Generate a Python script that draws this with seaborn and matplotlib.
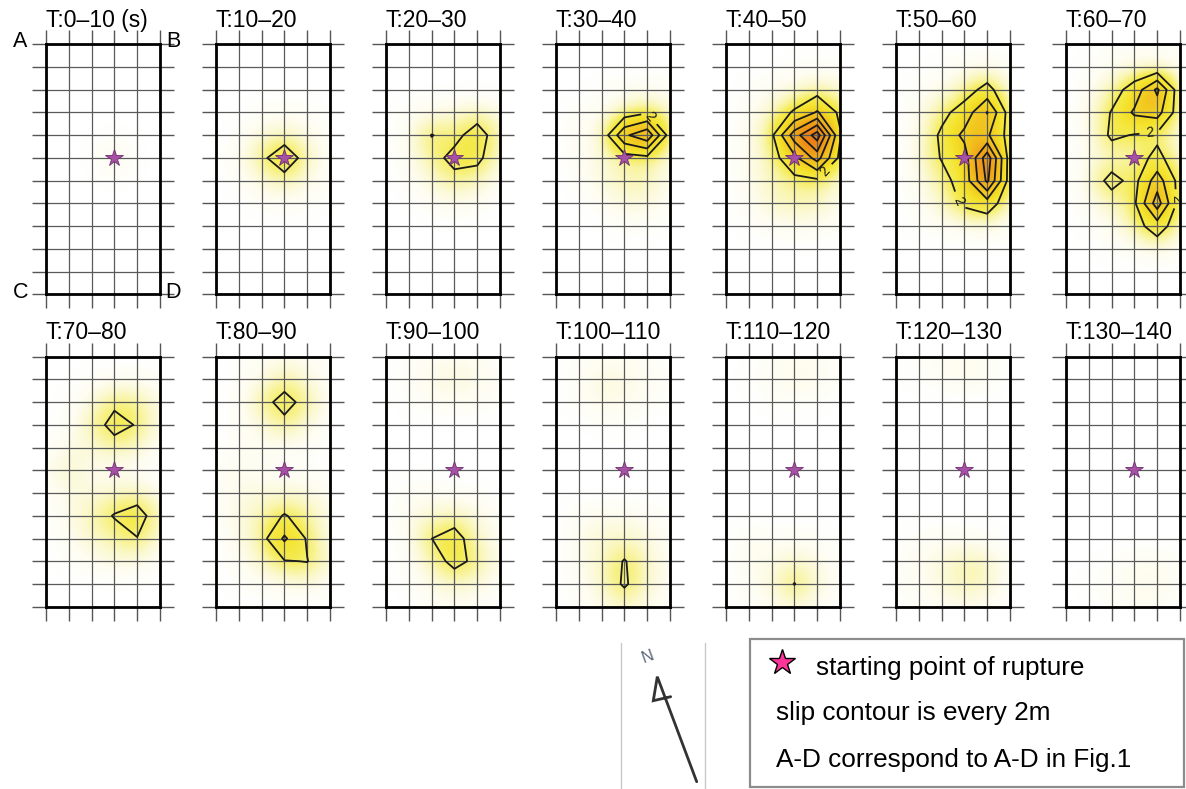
import numpy as np
import matplotlib
matplotlib.use("Agg")
import matplotlib.pyplot as plt
import seaborn as sns
from matplotlib.colors import LinearSegmentedColormap
from matplotlib.patches import Rectangle

# slip (m) at the grid nodes of the fault plane, 12 rows (top -> bottom) x 6 columns (left -> right)
windows = ["T:0–10 (s)", "T:10–20", "T:20–30", "T:30–40", "T:40–50", "T:50–60", "T:60–70",
           "T:70–80", "T:80–90", "T:90–100", "T:100–110", "T:110–120", "T:120–130", "T:130–140"]

z6 = [0, 0, 0, 0, 0, 0]

slip_000_010 = [z6, z6, z6, z6,
                [0, 0, 0, 0.15, 0, 0],
                [0, 0, 0.15, 0.8, 0.15, 0],
                [0, 0, 0, 0.15, 0, 0],
                z6, z6, z6, z6, z6]

slip_010_020 = [z6, z6, z6,
                [0, 0, 0.3, 0.4, 0.3, 0],
                [0, 0.3, 0.8, 1.1, 0.7, 0.2],
                [0, 0.5, 1.6, 3.2, 1.2, 0.3],
                [0, 0.3, 0.8, 1.3, 0.7, 0.2],
                [0, 0, 0.3, 0.4, 0.3, 0],
                z6, z6, z6, z6]

slip_020_030 = [z6, z6, z6,
                [0, 0.3, 0.6, 0.8, 1.2, 0.6],
                [0, 0.6, 2.05, 1.5, 2.8, 1.0],
                [0, 0.5, 1.4, 2.5, 2.4, 0.8],
                [0, 0.3, 0.9, 1.5, 1.2, 0.4],
                [0, 0, 0.4, 0.6, 0.4, 0],
                z6, z6, z6, z6]

slip_030_040 = [z6, z6,
                [0, 0, 0.2, 0.4, 0.5, 0.3],
                [0, 0.3, 0.5, 1.0, 1.8, 0.8],
                [0, 0.5, 0.6, 5.6, 7.5, 1.0],
                [0, 0.4, 0.8, 1.2, 1.5, 0.6],
                [0, 0.3, 0.8, 1.3, 1.3, 0.5],
                [0, 0, 0.4, 0.8, 0.8, 0.3],
                [0, 0, 0, 0.3, 0.3, 0],
                z6, z6, z6]

slip_040_050 = [z6,
                [0, 0, 0, 0.2, 0.3, 0.2],
                [0, 0.2, 0.5, 0.8, 1.2, 0.8],
                [0, 0.4, 1.0, 2.2, 4.2, 1.6],
                [0, 0.6, 1.6, 7.0, 11.0, 2.2],
                [0, 0.6, 1.2, 3.5, 6.8, 1.5],
                [0, 0.6, 1.1, 1.5, 1.6, 0.8],
                [0, 0.4, 1.0, 1.3, 1.2, 0.5],
                [0, 0.2, 0.4, 0.5, 0.5, 0.2],
                z6, z6, z6]

slip_050_060 = [z6,
                [0, 0, 0.2, 0.5, 0.6, 0.3],
                [0, 0.3, 0.6, 1.2, 2.6, 0.5],
                [0, 0.6, 1.5, 2.8, 6.1, 1.0],
                [0, 0.6, 2.3, 4.5, 4.3, 1.2],
                [0, 0.8, 2.1, 3.0, 9.2, 1.0],
                [0, 0.6, 1.4, 2.8, 8.4, 1.0],
                [0, 0.4, 1.0, 2.3, 3.0, 0.8],
                [0, 0.2, 0.4, 0.6, 0.8, 0.3],
                z6, z6, z6]

slip_060_070 = [[0, 0, 0.2, 0.3, 0.4, 0.2],
                [0, 0.2, 0.5, 0.6, 0.5, 0.4],
                [0, 0.4, 1.2, 2.8, 6.4, 0.6],
                [0, 0.6, 2.1, 4.3, 4.8, 0.8],
                [0, 0.5, 2.3, 1.9, 1.6, 0.6],
                [0, 0.6, 1.0, 1.2, 2.5, 0.8],
                [0, 0.8, 2.6, 1.4, 5.0, 1.2],
                [0, 0.5, 1.1, 1.7, 7.0, 1.0],
                [0, 0.2, 0.6, 1.2, 3.0, 0.8],
                [0, 0, 0.2, 0.4, 0.8, 0.3],
                z6, z6]

slip_070_080 = [z6,
                [0, 0, 0.2, 0.4, 0.4, 0.2],
                [0, 0.2, 0.8, 1.7, 1.5, 0.6],
                [0, 0.3, 1.3, 2.5, 1.9, 0.6],
                [0.2, 0.7, 0.8, 1.4, 1.0, 0.3],
                [0.5, 1.1, 0.5, 0.3, 0.3, 0],
                [0.2, 0.7, 0.8, 1.0, 1.2, 0.5],
                [0, 0.7, 1.2, 2.1, 2.7, 1.0],
                [0, 0.5, 1.0, 1.3, 1.95, 0.7],
                [0, 0.2, 0.5, 0.8, 0.8, 0.2],
                z6, z6]

slip_080_090 = [[0, 0.2, 0.4, 0.5, 0.4, 0.2],
                [0, 0.2, 0.6, 1.4, 0.8, 0.2],
                [0, 0.3, 1.5, 2.5, 1.5, 0.4],
                [0, 0.3, 0.7, 1.6, 0.8, 0.2],
                [0, 0.4, 0.5, 0.4, 0.3, 0],
                [0.2, 0.6, 0.3, 0.2, 0.2, 0],
                [0.3, 0.6, 0.8, 0.9, 0.8, 0.4],
                [0.2, 0.8, 1.2, 2.1, 1.4, 0.6],
                [0, 0.7, 1.3, 4.3, 1.8, 0.6],
                [0, 0.4, 1.0, 1.9, 2.05, 0.8],
                [0, 0.2, 0.4, 0.6, 0.8, 0.3],
                z6]

slip_090_100 = [[0, 0.2, 0.4, 0.5, 0.4, 0.2],
                [0, 0.3, 0.7, 0.8, 0.7, 0.3],
                [0, 0.2, 0.4, 0.5, 0.4, 0.2],
                z6, z6, z6,
                [0, 0.4, 0.4, 0.3, 0.2, 0],
                [0, 0.6, 0.9, 1.2, 0.8, 0.3],
                [0, 0.5, 1.99, 2.7, 1.0, 0.4],
                [0, 0.3, 1.2, 2.5, 1.6, 0.5],
                [0, 0.2, 0.7, 1.0, 0.8, 0.3],
                [0, 0, 0.3, 0.4, 0.3, 0]]

slip_100_110 = [[0, 0.2, 0.4, 0.4, 0.3, 0],
                [0, 0.4, 0.8, 0.7, 0.5, 0.2],
                [0, 0.3, 0.7, 0.6, 0.4, 0],
                [0, 0, 0.2, 0.2, 0, 0],
                z6, z6, z6,
                [0, 0.4, 0.6, 0.6, 0.4, 0.2],
                [0, 0.6, 0.9, 1.0, 0.8, 0.3],
                [0, 0.5, 1.0, 2.1, 1.0, 0.4],
                [0, 0.4, 1.0, 2.2, 1.0, 0.4],
                [0, 0.2, 0.5, 1.0, 0.5, 0.2]]

slip_110_120 = [[0, 0, 0.3, 0.4, 0.4, 0.2],
                [0, 0.2, 0.4, 0.7, 0.6, 0.2],
                [0, 0, 0.2, 0.3, 0.2, 0],
                z6, z6, z6, z6, z6,
                [0, 0.5, 0.3, 0.4, 0.3, 0],
                [0, 0.6, 0.6, 1.0, 0.7, 0.2],
                [0, 0.4, 0.8, 2.05, 0.9, 0.3],
                [0, 0.2, 0.4, 0.8, 0.4, 0]]

slip_120_130 = [[0, 0.2, 0.4, 0.5, 0.4, 0],
                [0, 0.2, 0.4, 0.6, 0.5, 0],
                z6, z6, z6, z6, z6, z6,
                [0, 0.3, 0.4, 0.4, 0.3, 0],
                [0.3, 0.5, 0.8, 1.3, 1.1, 0.3],
                [0.3, 0.4, 0.8, 1.3, 1.1, 0.2],
                [0, 0.2, 0.4, 0.5, 0.4, 0]]

slip_130_140 = [z6, z6, z6, z6, z6, z6, z6, z6, z6,
                [0, 0, 0.2, 0.4, 0.5, 0.2],
                [0, 0.2, 0.4, 0.6, 0.7, 0.3],
                [0, 0, 0.2, 0.3, 0.4, 0]]

slips = [slip_000_010, slip_010_020, slip_020_030, slip_030_040, slip_040_050,
         slip_050_060, slip_060_070, slip_070_080, slip_080_090, slip_090_100,
         slip_100_110, slip_110_120, slip_120_130, slip_130_140]

hypo = (3, 5)            # starting point of rupture (grid node)
contour_levels = [2, 4, 6, 8, 10]
# where the "2" contour labels sit (panel index -> node coordinates)
label_spots = {3: [(4.1, 3.2)], 4: [(4.45, 5.7)], 5: [(2.7, 6.9)], 6: [(3.7, 4.0), (4.95, 6.8)]}

sns.set_theme(style="white")
plt.rcParams["font.family"] = ["Liberation Sans", "DejaVu Sans"]
plt.rcParams["text.color"] = "black"

slip_stops = [0, 0.5, 1.0, 1.5, 2.0, 3.0, 4.0, 5.0, 6.0, 8.0, 10.0, 12.0]
slip_colors = ["#ffffff", "#fefdf0", "#fbf8cc", "#f8f392", "#f5ec55", "#f4e22a", "#f2ce22",
               "#f1b81c", "#f0a018", "#ec7414", "#e04a12", "#cc2a10"]
slip_cmap = LinearSegmentedColormap.from_list(
    "slip", [(v / 12, col) for v, col in zip(slip_stops, slip_colors)])

W, H = 1186, 789
fig = plt.figure(figsize=(W / 100, H / 100), dpi=100)

gx, gy = np.meshgrid(np.arange(6), np.arange(12))

panel_tops = []
for k, Z in enumerate(slips):
    r, c = divmod(k, 7)
    x0 = 46 + 170 * c
    y0 = 44.3 + 312.4 * r
    panel_tops.append((x0, y0))
    ax = fig.add_axes([x0 / W, 1 - (y0 + 250) / H, 114 / W, 250 / H])
    Z = np.array(Z, dtype=float)
    ax.imshow(Z, cmap=slip_cmap, vmin=0, vmax=12, interpolation="bicubic",
              extent=(-0.5, 5.5, 11.5, -0.5), aspect="auto", zorder=0)
    levels = [lv for lv in contour_levels if lv < Z.max()]
    if levels:
        cs = ax.contour(gx, gy, Z, levels=levels, colors="#1a1a1a", linewidths=1.3, zorder=2)
        cs.set_joinstyle("round")
        if k in label_spots:
            ax.clabel(cs, levels=[2], manual=label_spots[k], inline=True, fontsize=10, fmt="%d")
    ax.plot(*hypo, marker="*", ms=13, color="#a650a6", mec="#6e2e6e", mew=0.6, zorder=3)
    ax.set_xlim(0, 5)
    ax.set_ylim(11, 0)
    ax.set_xticks(range(6))
    ax.set_yticks(range(12))
    ax.tick_params(direction="out", length=10, width=1, color="#555555",
                   top=True, right=True, bottom=True, left=True,
                   labelbottom=False, labelleft=False)
    ax.set_axisbelow(True)
    ax.grid(True, color="#5a5a5a", lw=0.9)
    for s in ax.spines.values():
        s.set_visible(True)
        s.set_color("black")
        s.set_linewidth(2)

# overlay in pixel coordinates for titles, labels, north arrow and legend
ov = fig.add_axes([0, 0, 1, 1])
ov.set_xlim(0, W)
ov.set_ylim(H, 0)
ov.axis("off")
ov.patch.set_alpha(0)

for (x0, y0), t in zip(panel_tops, windows):
    ov.text(x0, y0 - 17.3, t, fontsize=16.5, ha="left", va="baseline", color="black")

for lab, lx, ly in [("A", 13, 46.7), ("B", 166, 46.7), ("C", 13, 298), ("D", 165, 298)]:
    ov.text(lx, ly, lab, fontsize=15.5, ha="left", va="baseline", color="black")

# north arrow
ov.plot([621, 621], [643, 789], color="#c8c8c8", lw=1)
ov.plot([705, 705], [643, 789], color="#c8c8c8", lw=1)
ov.plot([670.7, 653.3, 657.3, 696.7], [696.7, 700.7, 676.7, 781.7], color="#333333", lw=2,
        solid_joinstyle="miter")
ov.text(648, 657, "N", fontsize=12, color="#5a6478", ha="center", va="center", rotation=20)

# legend box
ov.add_patch(Rectangle((750, 639), 434, 148, fill=False, edgecolor="#8c8c8c", lw=1.6))
ov.plot(782, 662, marker="*", ms=19, color="#ff3399", mec="black", mew=1)
ov.text(816, 675, "starting point of rupture", fontsize=18.8, ha="left", va="baseline", color="black")
ov.text(776, 720, "slip contour is every 2m", fontsize=18.8, ha="left", va="baseline", color="black")
ov.text(776, 767, "A-D correspond to A-D in Fig.1", fontsize=18.8, ha="left", va="baseline", color="black")

fig.savefig("out.png", dpi=100)
